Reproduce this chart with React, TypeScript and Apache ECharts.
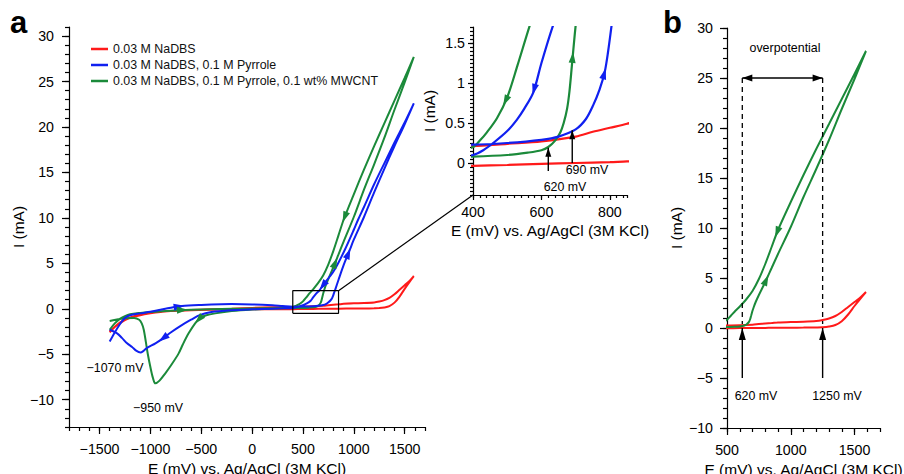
import React, { useEffect, useRef } from "react";
import * as echarts from "echarts";

type Pt = [number, number];

// ---------------- data: E (mV) vs I (mA), in scan order ----------------
const redForward: Pt[] = [
  [-1400, -2.6], [-1350, -2.0], [-1300, -1.6], [-1250, -1.25], [-1200, -1.0], [-1100, -0.7], [-1000, -0.5],
  [-900, -0.35], [-800, -0.25], [-600, -0.15], [-400, -0.1], [-200, -0.07], [0, -0.05], [200, -0.05],
  [400, -0.035], [500, -0.025], [600, -0.01], [700, 0.0], [800, 0.01], [850, 0.02], [1000, 0.03],
  [1100, 0.04], [1200, 0.06], [1250, 0.08], [1300, 0.15], [1350, 0.3], [1400, 0.68], [1450, 1.35],
  [1500, 2.2], [1550, 3.0], [1590, 3.6],
];
const redReverse: Pt[] = [
  [1590, 3.6], [1550, 3.1], [1500, 2.6], [1450, 2.1], [1400, 1.6], [1350, 1.2], [1300, 0.95], [1250, 0.8],
  [1200, 0.7], [1100, 0.63], [1000, 0.6], [900, 0.55], [850, 0.49], [800, 0.44], [750, 0.39], [700, 0.33],
  [600, 0.27], [500, 0.24], [400, 0.21], [300, 0.19], [200, 0.17], [0, 0.1], [-200, 0.02], [-400, -0.05],
  [-600, -0.12], [-800, -0.25], [-1000, -0.45], [-1100, -0.65], [-1200, -0.95], [-1300, -1.5], [-1400, -2.5],
];
const blueForward: Pt[] = [
  [-1400, -3.6], [-1350, -2.6], [-1300, -1.7], [-1250, -1.0], [-1200, -0.7], [-1100, -0.5], [-1000, -0.33],
  [-900, -0.1], [-800, 0.12], [-690, 0.3], [-500, 0.42], [-300, 0.5], [-200, 0.52], [0, 0.48], [200, 0.38],
  [300, 0.3], [400, 0.23], [500, 0.25], [600, 0.29], [650, 0.33], [700, 0.42], [730, 0.55], [751, 0.72],
  [770, 0.92], [785, 1.14], [795, 1.4], [805, 1.72], [820, 2.2], [850, 3.2], [900, 4.8], [961, 6.5],
  [1000, 7.6], [1100, 10.1], [1200, 12.8], [1300, 15.4], [1400, 17.9], [1500, 20.3], [1590, 22.6],
];
const blueReverse: Pt[] = [
  [1590, 22.6], [1500, 20.5], [1400, 18.3], [1300, 16.0], [1200, 13.7], [1100, 11.2], [1042, 9.8],
  [1000, 8.7], [912, 6.5], [850, 5.1], [800, 4.1], [760, 3.5], [732, 3.1], [699, 2.6], [660, 2.0], [634, 1.72],
  [600, 1.25], [576, 0.88], [550, 0.68], [528, 0.54], [500, 0.4], [459, 0.25], [430, 0.16], [400, 0.1],
  [300, 0.05], [200, 0.02], [0, -0.05], [-200, -0.15], [-400, -0.35], [-510, -0.66], [-600, -1.2],
  [-706, -1.9], [-800, -2.6], [-869, -3.2], [-950, -3.8], [-1033, -4.3], [-1070, -4.65], [-1098, -4.8],
  [-1140, -4.6], [-1180, -4.2], [-1229, -3.8], [-1280, -3.2], [-1327, -2.7], [-1400, -2.3],
];
const greenForward: Pt[] = [
  [-1400, -2.3], [-1350, -1.6], [-1300, -1.1], [-1250, -0.8], [-1200, -0.6], [-1100, -0.45], [-1000, -0.35],
  [-800, -0.2], [-600, -0.1], [-400, -0.04], [-200, 0.0], [0, 0.04], [200, 0.06], [400, 0.08], [500, 0.1],
  [560, 0.13], [600, 0.16], [620, 0.2], [640, 0.28], [655, 0.38], [665, 0.5], [675, 0.68], [682, 0.9],
  [689, 1.22], [695, 1.5], [700, 1.72], [710, 2.1], [725, 2.6], [750, 3.3], [800, 4.6], [850, 6.0],
  [900, 7.4], [1000, 10.1], [1100, 13.1], [1200, 15.9], [1300, 18.8], [1400, 21.9], [1500, 24.9], [1590, 27.7],
];
const greenReverse: Pt[] = [
  [1590, 27.7], [1500, 25.4], [1400, 22.9], [1300, 20.4], [1200, 17.9], [1100, 15.3], [1000, 12.6],
  [900, 9.8], [850, 8.1], [800, 6.4], [750, 4.9], [700, 3.7], [650, 2.85], [600, 2.15], [566, 1.72],
  [530, 1.22], [500, 0.82], [470, 0.56], [440, 0.38], [420, 0.28], [400, 0.2], [300, 0.08], [200, 0.02],
  [0, -0.08], [-200, -0.25], [-363, -0.5], [-450, -0.7], [-510, -1.0], [-560, -1.6], [-624, -2.7],
  [-680, -3.9], [-722, -4.9], [-790, -6.1], [-853, -7.1], [-910, -7.9], [-951, -8.2], [-975, -7.6],
  [-1000, -6.4], [-1025, -5.0], [-1045, -3.6], [-1065, -2.3], [-1085, -1.6], [-1110, -1.2], [-1160, -1.0],
  [-1260, -1.05], [-1400, -1.35],
];

const legendNames = [
  "0.03 M NaDBS",
  "0.03 M NaDBS, 0.1 M Pyrrole",
  "0.03 M NaDBS, 0.1 M Pyrrole, 0.1 wt% MWCNT",
];

// tick labels
const mainXTicks = [-1500, -1000, -500, 0, 500, 1000, 1500];
const mainYTicks = [-10, -5, 0, 5, 10, 15, 20, 25, 30];
const insetXTicks = [400, 600, 800];
const insetYTicks = [0, 0.5, 1, 1.5];
const bXTicks = [500, 1000, 1500];
const bYTicks = [-10, -5, 0, 5, 10, 15, 20, 25, 30];

// annotations (data coordinates)
const zoomBoxE = [400, 850];
const zoomBoxI = [-0.5, 2];
const insetOnsets = [
  { E: 620, from: -0.1, to: 0.19 },
  { E: 690, from: 0.0, to: 0.41 },
];
const bOnsets = [620, 1250];
const bArrowFrom = -5;
const bDashTop = 25;
const bDashBottom = 0.4;

const RED = "#ff1a1a";
const BLUE = "#1020f0";
const GREEN = "#1b8a3a";
const FONT = '"Liberation Sans", Arial, Helvetica, sans-serif';

const fmt = (v: number) => (v < 0 ? "\u2212" + Math.abs(v) : String(v));

function axes(
  dim: "x" | "y", grid: number, min: number, max: number, step: number, major: number[],
  c: { name: string; nameGap: number; margin: number; majorLen: number; minorLen: number }
) {
  const position = dim === "x" ? "bottom" : "left";
  const ls = { color: "#000", width: 1.2 };
  const majorAxis: any = {
    type: "value", gridIndex: grid, min, max, interval: step, position,
    axisLine: { show: true, onZero: false, lineStyle: ls },
    axisTick: { show: true, customValues: major, length: c.majorLen, lineStyle: ls },
    axisLabel: {
      show: true, customValues: major, formatter: fmt, margin: c.margin,
      fontSize: 14.2, color: "#000", fontFamily: FONT,
    },
    splitLine: { show: false },
    name: c.name, nameLocation: "middle", nameGap: c.nameGap,
    nameTextStyle: { fontSize: 15.5, color: "#000", fontFamily: FONT },
  };
  if (dim === "y") majorAxis.nameRotate = 90;
  const minorAxis: any = {
    type: "value", gridIndex: grid, min, max, interval: step, position,
    axisLine: { show: false, onZero: false },
    axisTick: { show: true, length: c.minorLen, lineStyle: ls },
    axisLabel: { show: false },
    splitLine: { show: false },
  };
  return [majorAxis, minorAxis];
}

function loop(fwd: Pt[], rev: Pt[]): Pt[] {
  return [...fwd, ...rev.slice(1)];
}

function curve(name: string, color: string, data: Pt[], ax: number, width: number) {
  return {
    type: "line", name, data, xAxisIndex: ax, yAxisIndex: ax,
    showSymbol: false, symbol: "none", smooth: 0.3, clip: true, silent: true,
    lineStyle: { color, width }, itemStyle: { color },
  };
}

function blackLine(data: Pt[], ax: number, width: number, dashed = false) {
  return {
    type: "line", data, xAxisIndex: ax, yAxisIndex: ax, showSymbol: false, symbol: "none",
    clip: false, silent: true, z: 5,
    lineStyle: { color: "#000", width, type: dashed ? [5, 4] : "solid" }, itemStyle: { color: "#000" },
  };
}

function pointOn(c: Pt[], E: number) {
  for (let i = 0; i < c.length - 1; i++) {
    const a = c[i], b = c[i + 1];
    if ((a[0] - E) * (b[0] - E) <= 0 && a[0] !== b[0]) {
      const t = (E - a[0]) / (b[0] - a[0]);
      return { p: [E, a[1] + t * (b[1] - a[1])] as Pt, a, b };
    }
  }
  return null;
}

const curveArrows: { panel: number; c: Pt[]; E: number; color: string }[] = [
  { panel: 0, c: greenReverse, E: 912, color: GREEN },
  { panel: 0, c: greenForward, E: 814, color: GREEN },
  { panel: 0, c: blueReverse, E: 699, color: BLUE },
  { panel: 0, c: blueForward, E: 944, color: BLUE },
  { panel: 0, c: blueReverse, E: -869, color: BLUE },
  { panel: 0, c: greenReverse, E: -520, color: GREEN },
  { panel: 0, c: blueForward, E: -722, color: BLUE },
  { panel: 0, c: greenForward, E: -690, color: GREEN },
  { panel: 1, c: greenReverse, E: 496, color: GREEN },
  { panel: 1, c: blueReverse, E: 579, color: BLUE },
  { panel: 1, c: greenForward, E: 691, color: GREEN },
  { panel: 1, c: blueForward, E: 783, color: BLUE },
  { panel: 2, c: greenReverse, E: 895, color: GREEN },
  { panel: 2, c: greenForward, E: 805, color: GREEN },
];

export default function App() {
  const ref = useRef<HTMLDivElement>(null);
  useEffect(() => {
    if (!ref.current) return;
    const chart = echarts.init(ref.current, null, { renderer: "svg" });
    const [mx0, mx1] = axes("x", 0, -1800, 1700, 100, mainXTicks,
      { name: "E (mV) vs. Ag/AgCl (3M KCl)", nameGap: 31, margin: 15, majorLen: 7, minorLen: 4 });
    const [my0, my1] = axes("y", 0, -13, 31, 1, mainYTicks,
      { name: "I (mA)", nameGap: 42, margin: 15, majorLen: 7, minorLen: 4 });
    const [ix0, ix1] = axes("x", 1, 400, 850, 20, insetXTicks,
      { name: "E (mV) vs. Ag/AgCl (3M KCl)", nameGap: 27, margin: 10, majorLen: 5, minorLen: 3 });
    const [iy0, iy1] = axes("y", 1, -0.4, 1.7, 0.05, insetYTicks,
      { name: "I (mA)", nameGap: 36, margin: 8, majorLen: 5, minorLen: 3 });
    const [bx0, bx1] = axes("x", 2, 500, 1700, 100, bXTicks,
      { name: "E (mV) vs. Ag/AgCl (3M KCl)", nameGap: 31, margin: 15, majorLen: 7, minorLen: 4 });
    const [by0, by1] = axes("y", 2, -10, 30, 1, bYTicks,
      { name: "I (mA)", nameGap: 43, margin: 14, majorLen: 7, minorLen: 4 });

    const red = loop(redForward, redReverse);
    const blue = loop(blueForward, blueReverse);
    const green = loop(greenForward, greenReverse);

    const series: any[] = [
      curve(legendNames[0], RED, red, 0, 2),
      curve(legendNames[2], GREEN, green, 0, 2),
      curve(legendNames[1], BLUE, blue, 0, 2),
      curve(legendNames[0], RED, red, 2, 2.2),
      curve(legendNames[2], GREEN, green, 2, 2.2),
      curve(legendNames[1], BLUE, blue, 2, 2.2),
      curve(legendNames[0], RED, red, 4, 2),
      curve(legendNames[2], GREEN, green, 4, 2),
      blackLine([
        [zoomBoxE[0], zoomBoxI[0]], [zoomBoxE[1], zoomBoxI[0]], [zoomBoxE[1], zoomBoxI[1]],
        [zoomBoxE[0], zoomBoxI[1]], [zoomBoxE[0], zoomBoxI[0]],
      ], 0, 1.2),
      ...insetOnsets.map((o) => blackLine([[o.E, o.from], [o.E, o.to]], 2, 1.4)),
      ...bOnsets.map((E) => blackLine([[E, bArrowFrom], [E, 0]], 4, 1.4)),
      ...bOnsets.map((E) => blackLine([[E, bDashTop], [E, bDashBottom]], 4, 1.3, true)),
      blackLine([[bOnsets[0], bDashTop], [bOnsets[1], bDashTop]], 4, 1.5),
    ];

    chart.setOption({
      animation: false,
      backgroundColor: "#fff",
      textStyle: { fontFamily: FONT },
      grid: [
        { left: 69, top: 27, width: 356, height: 400, outerBoundsMode: "none" },
        { left: 473, top: 27, width: 154, height: 168, outerBoundsMode: "none" },
        { left: 727, top: 28, width: 153, height: 400, outerBoundsMode: "none" },
      ],
      xAxis: [mx0, mx1, ix0, ix1, bx0, bx1],
      yAxis: [my0, my1, iy0, iy1, by0, by1],
      legend: {
        data: legendNames, left: 86, top: 37, orient: "vertical", icon: "rect",
        itemWidth: 17, itemHeight: 2.5, itemGap: 2, selectedMode: false,
        textStyle: { fontSize: 12.4, lineHeight: 14, color: "#111", fontFamily: FONT },
      },
      series,
    });

    const axOf = [
      { xAxisIndex: 0, yAxisIndex: 0 },
      { xAxisIndex: 2, yAxisIndex: 2 },
      { xAxisIndex: 4, yAxisIndex: 4 },
    ];
    const px = (panel: number, p: Pt) => chart.convertToPixel(axOf[panel], p) as unknown as number[];
    const head = (cx: number, cy: number, ux: number, uy: number, L: number, W: number, atTip: boolean, fill: string) => {
      const n = Math.hypot(ux, uy) || 1;
      ux /= n; uy /= n;
      const nx = -uy, ny = ux;
      const tx = atTip ? cx : cx + ux * L * 0.55;
      const ty = atTip ? cy : cy + uy * L * 0.55;
      const bx = tx - ux * L, by = ty - uy * L;
      return {
        type: "polygon", silent: true, z: 100,
        shape: { points: [[tx, ty], [bx + (nx * W) / 2, by + (ny * W) / 2], [bx - (nx * W) / 2, by - (ny * W) / 2]] },
        style: { fill },
      };
    };
    const els: any[] = [];
    curveArrows.forEach((a) => {
      const r = pointOn(a.c, a.E);
      if (!r) return;
      const p = px(a.panel, r.p), pa = px(a.panel, r.a), pb = px(a.panel, r.b);
      els.push(head(p[0], p[1], pb[0] - pa[0], pb[1] - pa[1], 11, 7, false, a.color));
    });
    insetOnsets.forEach((o) => {
      const t = px(1, [o.E, o.to]);
      els.push(head(t[0], t[1], 0, -1, 9, 6, true, "#000"));
    });
    bOnsets.forEach((E) => {
      const t = px(2, [E, 0]);
      els.push(head(t[0], t[1], 0, -1, 12, 7, true, "#000"));
    });
    const l = px(2, [bOnsets[0], bDashTop]);
    const rr = px(2, [bOnsets[1], bDashTop]);
    els.push(head(l[0], l[1], -1, 0, 10, 7, true, "#000"));
    els.push(head(rr[0], rr[1], 1, 0, 10, 7, true, "#000"));
    const c1 = px(0, [zoomBoxE[1], zoomBoxI[1]]);
    const c2 = px(1, [400, -0.4]);
    els.push({ type: "line", silent: true, z: 50, shape: { x1: c1[0], y1: c1[1], x2: c2[0], y2: c2[1] }, style: { stroke: "#000", lineWidth: 1.2 } });

    const txt = (s: string, x: number, y: number, size: number, bold = false, align = "center", va = "middle") => ({
      type: "text", x, y, silent: true, z: 100,
      style: {
        text: s, font: `${bold ? "bold " : ""}${size}px ${FONT}`, fill: "#000",
        align, verticalAlign: va, textAlign: align, textVerticalAlign: va,
      },
    });
    els.push(txt("a", 10, 7, 31, true, "left", "top"));
    els.push(txt("b", 663, 7, 31, true, "left", "top"));
    els.push(txt("\u22121070 mV", 115, 368, 12.4));
    els.push(txt("\u2212950 mV", 158, 408, 12.4));
    els.push(txt("690 mV", 587, 170, 12.4));
    els.push(txt("620 mV", 565, 187, 12.4));
    els.push(txt("overpotential", 785, 48, 12.4));
    els.push(txt("620 mV", 756, 396, 12.4));
    els.push(txt("1250 mV", 837, 396, 12.4));

    chart.setOption({ graphic: { elements: els } });
    return () => chart.dispose();
  }, []);
  return <div ref={ref} style={{ position: "fixed", left: 0, top: 0, width: 904, height: 474 }} />;
}
